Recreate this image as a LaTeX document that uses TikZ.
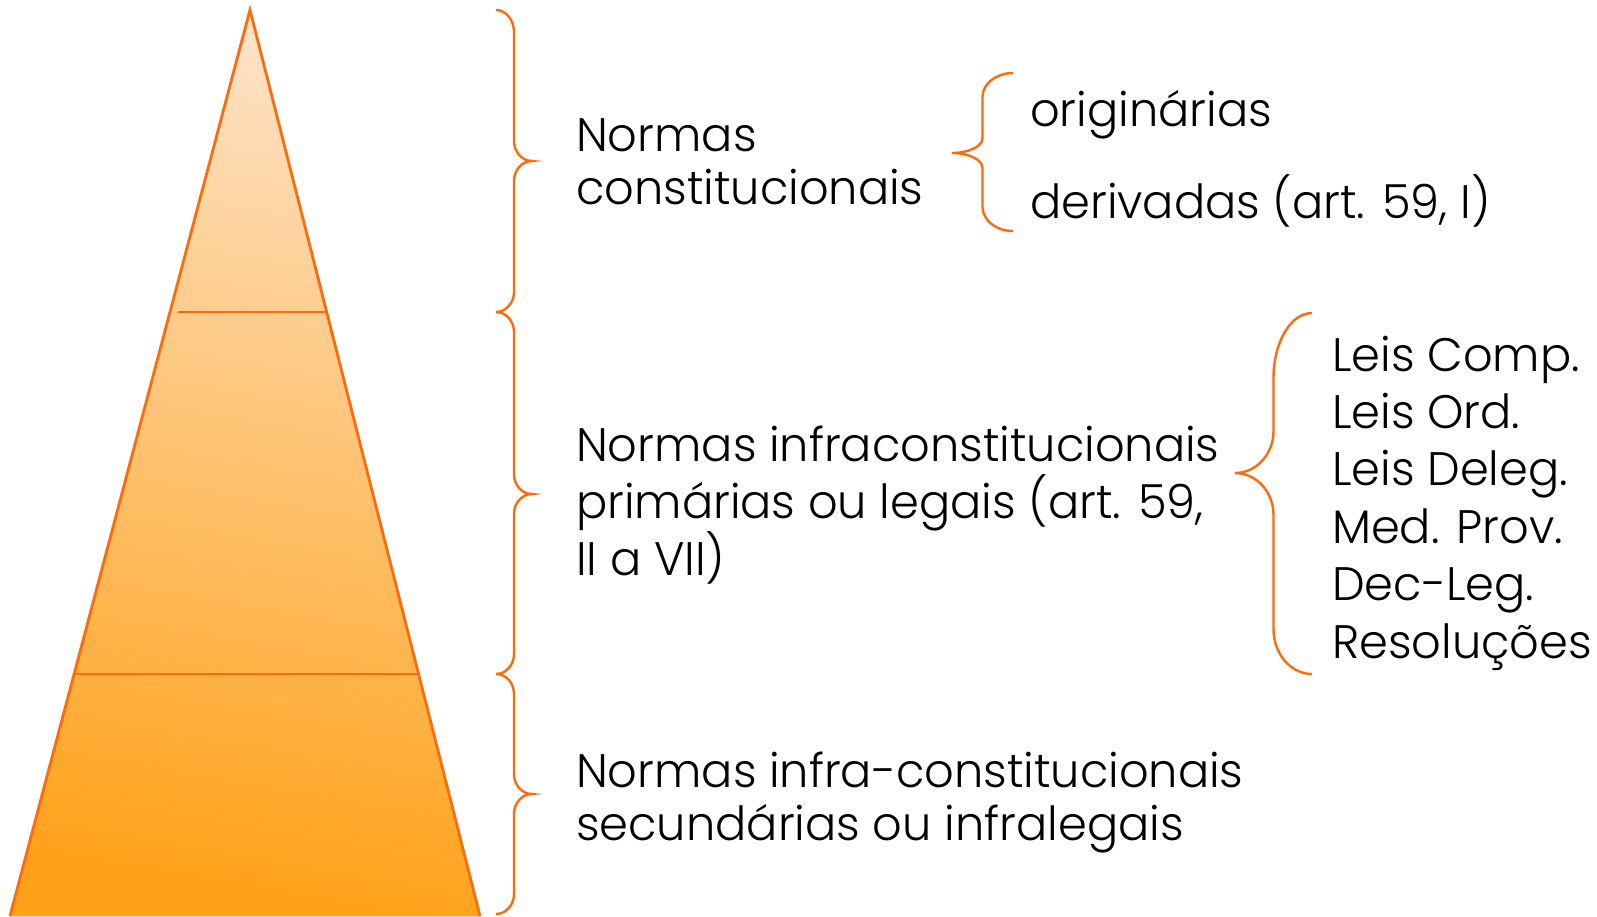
\documentclass[tikz,border=0pt]{standalone}
\usepackage{fontspec}
\setmainfont{Poppins Light}[FakeStretch=0.985]
\definecolor{edge}{HTML}{FF6A0D}
\definecolor{topfill}{HTML}{FDE2C6}
\definecolor{botfill}{HTML}{FFA21A}
% brace: #1 tip x, #2 point x, #3 top y, #4 point y, #5 bottom y, #6 top curl, #7 point curl, #8 bottom curl
\newcommand\mybrace[8]{%
  \draw[bracestyle]
    (#1,#3) .. controls ({#1+0.552*((#2-#1)/2)},#3) and ({(#1+#2)/2},{#3+0.448*#6}) .. ({(#1+#2)/2},{#3+#6})
    -- ({(#1+#2)/2},{#4-#7})
    .. controls ({(#1+#2)/2},{#4-0.448*#7}) and ({#2-0.552*((#2-#1)/2)},#4) .. (#2,#4)
    .. controls ({#2-0.552*((#2-#1)/2)},#4) and ({(#1+#2)/2},{#4+0.448*#7}) .. ({(#1+#2)/2},{#4+#7})
    -- ({(#1+#2)/2},{#5-#8})
    .. controls ({(#1+#2)/2},{#5-0.448*#8}) and ({#1+0.552*((#2-#1)/2)},#5) .. (#1,#5);}
\begin{document}
\begin{tikzpicture}[x=1pt,y=-1pt,
  bracestyle/.style={draw=edge,line width=2.4pt},
  divider/.style={draw=edge,line width=2.6pt},
  label/.style={inner sep=0pt,align=left,anchor=base west,text=black,font=\fontsize{47}{57}\selectfont}]
\useasboundingbox (0,0) rectangle (1597,916);
\begin{scope}
\clip (0,0) rectangle (1597,916);
\coordinate (apex) at (250,10);
\coordinate (bl) at (10,916);
\coordinate (br) at (480,916);
\fill[top color=topfill,bottom color=botfill,shading angle=-10] (apex) -- (bl) -- (br) -- cycle;
\draw[edge,line width=2.8pt,line join=miter] (bl) -- (apex) -- (br);
\coordinate (d1l) at (178,312);
\coordinate (d1r) at (328,312);
\coordinate (d2l) at (74,674);
\coordinate (d2r) at (419,674);
\draw[divider] (d1l) -- (d1r);
\draw[divider] (d2l) -- (d2r);
\end{scope}
% main braces
\mybrace{496}{532}{10}{161}{312}{22}{20}{20}
\mybrace{496}{532}{312}{494}{674}{20}{20}{20}
\mybrace{496}{532}{674}{794}{914}{20}{20}{20}
% small braces
\mybrace{1013}{952}{73}{153}{231}{24}{15}{24}
\mybrace{1312}{1235}{313}{473}{674}{65}{42}{45}
% texts (anchor = baseline of the last line)
\node[label,font=\fontsize{47}{53}\selectfont] (nc) at (576,204) {Normas\\constitucionais};
\node[label] (orig) at (1030,126) {originárias};
\node[label] (der) at (1030,218) {derivadas (art. 59, I)};
\node[label] (ni) at (576,575) {Normas infraconstitucionais\\primárias ou legais (art. 59,\\II a VII)};
\node[label,font=\fontsize{47}{53}\selectfont] (ns) at (576,840) {Normas infra-constitucionais\\secundárias ou infralegais};
\node[label,font=\fontsize{47}{57.4}\selectfont] (list) at (1332,658) {Leis Comp.\\Leis Ord.\\Leis Deleg.\\Med. Prov.\\Dec-Leg.\\Resoluções};
\end{tikzpicture}
\end{document}
